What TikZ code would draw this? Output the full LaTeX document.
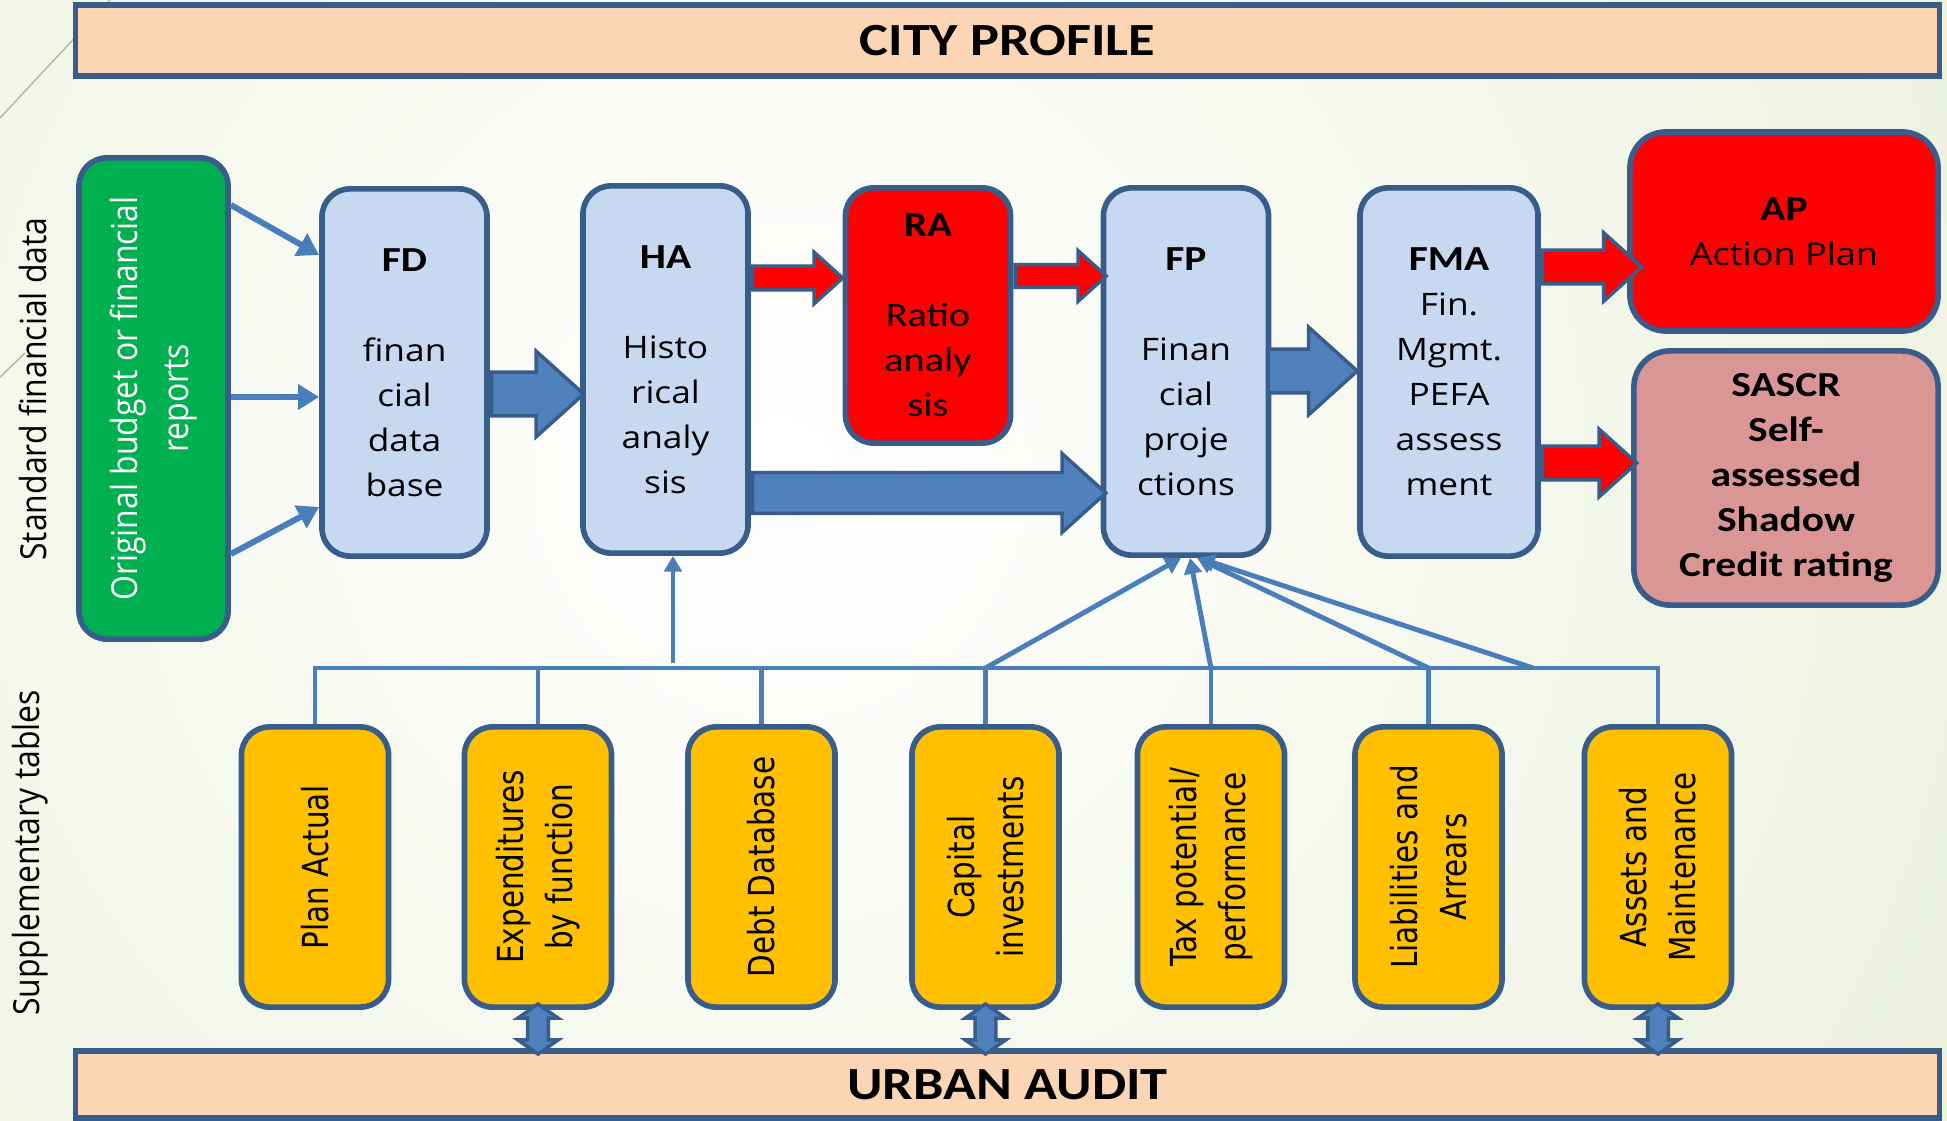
\documentclass[tikz,border=0pt]{standalone}
\usepackage{fontspec}
\usetikzlibrary{arrows.meta,shapes.arrows,calc}
\setmainfont{Open Sans}
\newfontfamily\headfont[FakeStretch=1.18]{Carlito}
\newfontfamily\bodyfont[FakeStretch=1.14]{Open Sans}
\newfontfamily\sidefont[FakeStretch=0.89]{Open Sans}
\newfontfamily\tablefont[FakeStretch=0.82]{DejaVu Sans}
\definecolor{edgeblue}{HTML}{385D8A}
\definecolor{linkblue}{HTML}{4A7EBB}
\definecolor{arrowblue}{HTML}{4F81BD}
\definecolor{boxblue}{HTML}{C6D9F1}
\definecolor{peach}{HTML}{FCD5B5}
\definecolor{tablegold}{HTML}{FFC000}
\definecolor{sourcegreen}{HTML}{00B050}
\definecolor{ratingrose}{HTML}{D99694}
\definecolor{slidegreen}{HTML}{DEE8C6}
\definecolor{decogray}{HTML}{B9B4A0}
\tikzstyle{box}=[draw=edgeblue, line width=1.6pt, rounded corners=0.28cm, align=center, inner sep=0pt]
\tikzstyle{stage}=[box, fill=boxblue, minimum width=1.65cm, minimum height=3.67cm, font=\bodyfont\fontsize{8.8pt}{12.8pt}\selectfont]
\tikzstyle{banner}=[draw=edgeblue, line width=1.6pt, fill=peach, minimum width=18.63cm, font=\headfont\bfseries\fontsize{13.1pt}{15pt}\selectfont]
\tikzstyle{tablebox}=[box, fill=tablegold, rotate=90, minimum width=2.8cm, minimum height=1.47cm, font=\tablefont\fontsize{10.2pt}{13.9pt}\selectfont]
\tikzstyle{sidelabel}=[rotate=90, inner sep=0pt, align=center, font=\sidefont\fontsize{10.2pt}{14.5pt}\selectfont]
\tikzstyle{link}=[draw=linkblue, line width=1.4pt]
\tikzstyle{feed}=[link, -{Triangle[length=4.5pt,width=5pt]}]
\tikzstyle{bigarrow}=[single arrow, draw=edgeblue, line width=1pt, fill=arrowblue, inner xsep=0pt, single arrow tip angle=84, anchor=tail]
\tikzstyle{hotarrow}=[bigarrow, fill=red]
\tikzstyle{twoway}=[double arrow, rotate=90, draw=edgeblue, line width=1pt, fill=arrowblue, inner xsep=0pt, inner ysep=0.085cm, double arrow head extend=0.1cm, double arrow tip angle=110, minimum height=0.5cm]
\tikzstyle{deco}=[draw=decogray, line width=0.4pt]
\newcommand{\stagehead}[1]{{\headfont\bfseries\fontsize{10pt}{12.8pt}\selectfont #1}}
\newcommand{\tablebox}{\node[tablebox]}

\begin{document}
\begin{tikzpicture}[x=0.01cm, y=-0.01cm]
\useasboundingbox (0,0) rectangle (1947,1121);
\begin{scope}
    \clip (0,0) rectangle (1947,1121);
    \shade[inner color=white, outer color=slidegreen] (780,470) circle (2300);
\end{scope}
\draw[deco] (0,118) -- (110,0);
\draw[deco] (0,377) -- (25,353);

\node[banner, minimum height=0.71cm] (city) at (1007.5,40.5) {CITY PROFILE};
\node[banner, minimum height=0.67cm] (audit) at (1007.5,1084.5) {URBAN AUDIT};

\node[sidelabel] (stdlabel) at (33,389) {Standard financial data};
\node[sidelabel] (suplabel) at (30,853) {Supplementary tables};

\node[box, fill=sourcegreen, rotate=90, minimum width=4.81cm, minimum height=1.49cm, text=white,
      font=\sidefont\fontsize{10.2pt}{14.5pt}\selectfont] (source) at (153.5,398.5) {Original budget or financial\\reports};
\node[stage] (fd) at (404.5,372.5) {\stagehead{FD}\\[12.8pt]finan\\cial\\data\\base};
\node[stage] (ha) at (665.5,369.5) {\stagehead{HA}\\[12.8pt]Histo\\rical\\analy\\sis};
\node[stage, fill=red, minimum height=2.55cm, font=\headfont\fontsize{9.7pt}{12.8pt}\selectfont] (ra) at (928,315.5) {\stagehead{RA}\\[12.8pt]Ratio\\analy\\sis};
\node[stage] (fp) at (1186,371.5) {\stagehead{FP}\\[12.8pt]Finan\\cial\\proje\\ctions};
\node[stage, minimum width=1.78cm, minimum height=3.68cm] (fma) at (1449,372) {\stagehead{FMA}\\Fin.\\Mgmt.\\PEFA\\assess\\ment};
\node[box, fill=red, minimum width=3.08cm, minimum height=1.99cm, rounded corners=0.36cm,
      font=\bodyfont\fontsize{9pt}{12.8pt}\selectfont] (ap) at (1784,231.5) {\stagehead{AP}\\Action Plan};
\node[box, fill=ratingrose, minimum width=3.04cm, minimum height=2.54cm, rounded corners=0.36cm,
      font=\headfont\bfseries\fontsize{10pt}{12.8pt}\selectfont] (sascr) at (1786,478) {SASCR\\Self-\\assessed\\Shadow\\Credit rating};

\tablebox (plan) at (315,867) {Plan Actual};
\tablebox (exp) at (538,867) {Expenditures\\by function};
\tablebox (debt) at (761.5,867) {Debt Database};
\tablebox (cap) at (985.5,867) {Capital\\investments};
\tablebox (tax) at (1211,867) {Tax potential/\\performance};
\tablebox (liab) at (1428.5,867) {Liabilities and\\Arrears};
\tablebox (assets) at (1658,867) {Assets and\\Maintenance};

\draw[feed, line width=1.7pt, -{Triangle[length=6pt,width=7pt]}] (source.south |- 0,205) -- (fd.west |- 0,255);
\draw[feed, line width=1.7pt, -{Triangle[length=6pt,width=7pt]}] (source.south |- 0,397) -- (fd.west |- 0,397);
\draw[feed, line width=1.7pt, -{Triangle[length=6pt,width=7pt]}] (source.south |- 0,554) -- (fd.west |- 0,507);

\node[bigarrow, minimum height=0.92cm, inner ysep=0.2cm, single arrow head extend=0.21cm] (fdha) at (fd.east |- 0,394) {};
\node[bigarrow, minimum height=3.53cm, inner ysep=0.185cm, single arrow head extend=0.19cm] (hafp) at (ha.east |- 0,493) {};
\node[bigarrow, minimum height=0.89cm, inner ysep=0.2cm, single arrow head extend=0.22cm] (fpfma) at ([xshift=-1.4pt]fp.east |- 0,371) {};
\node[hotarrow, minimum height=0.9cm, inner ysep=0.1cm, single arrow head extend=0.14cm] (hara) at (ha.east |- 0,278) {};
\node[hotarrow, minimum height=0.91cm, inner ysep=0.095cm, single arrow head extend=0.14cm] (rafp) at (ra.east |- 0,276) {};
\node[hotarrow, minimum height=0.99cm, inner ysep=0.15cm, single arrow head extend=0.175cm] (fmaap) at (fma.east |- 0,267) {};
\node[hotarrow, minimum height=0.94cm, inner ysep=0.15cm, single arrow head extend=0.17cm] (fmasascr) at (fma.east |- 0,463) {};

\coordinate (busL) at (315,668);
\coordinate (hafeed) at (673,663);
\coordinate (tap) at (1533,668);
\draw[link] (plan.east) -- (plan.east |- busL) -- (assets.east |- busL) -- (assets.east);
\foreach \t in {exp,debt,cap,tax,liab}
    \draw[link] (\t.east) -- (\t.east |- busL);
\draw[feed] (hafeed) -- (hafeed |- ha.south);
\draw[feed] (cap.east |- busL) -- (fp.south -| 1181,0);
\draw[feed] (tax.east |- busL) -- (fp.south -| 1190,0);
\draw[feed] (liab.east |- busL) -- (fp.south -| 1197,0);
\draw[feed] (tap) -- (fp.south -| 1199,0);

\node[twoway] (expaudit) at ($(exp.west)!.5!(exp.west |- audit.north)$) {};
\node[twoway] (capaudit) at ($(cap.west)!.5!(cap.west |- audit.north)$) {};
\node[twoway] (assetsaudit) at ($(assets.west)!.5!(assets.west |- audit.north)$) {};
\end{tikzpicture}
\end{document}
